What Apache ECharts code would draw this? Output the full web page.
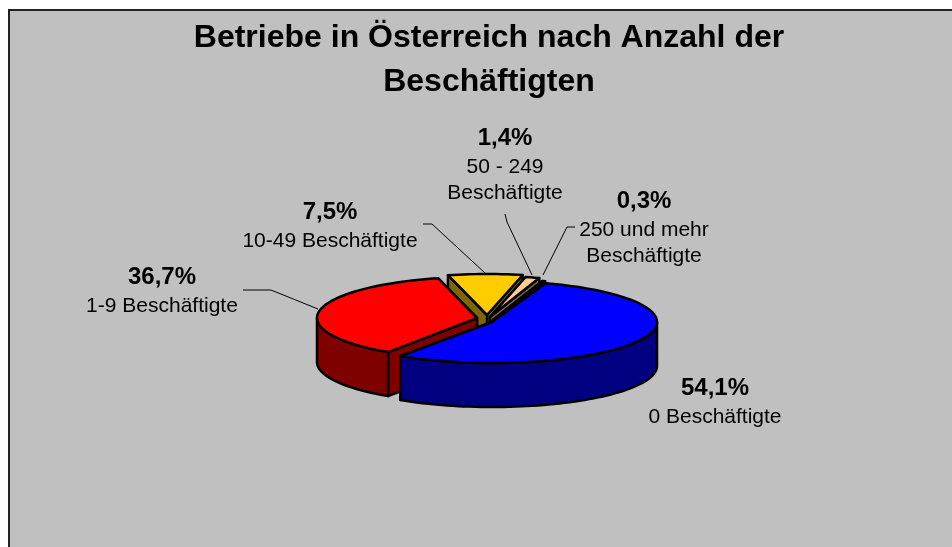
<!DOCTYPE html>
<html>
<head>
<meta charset="utf-8">
<style>html,body{margin:0;padding:0;background:#fff;overflow:hidden}#main{width:952px;height:547px}</style>
<script src="https://cdn.jsdelivr.net/npm/echarts@6/dist/echarts.min.js"></script>
</head>
<body>
<div id="main"></div>
<script>
// data
const titleLines = ["Betriebe in Österreich nach Anzahl der", "Beschäftigten"];
const categories = ["0 Beschäftigte", "1-9 Beschäftigte", "10-49 Beschäftigte", "50 - 249\nBeschäftigte", "250 und mehr\nBeschäftigte"];
const values = [54.1, 36.7, 7.5, 1.4, 0.3];
const topColors = ["#0000ff", "#ff0000", "#ffcc00", "#ffcc99", "#ffcc99"];
const sideColors = ["#000080", "#800000", "#806600", "#80664d", "#80664d"];

// pie geometry (tilted, exploded), back slices painted first
const startAngle = 71;
const depth = 44;
const sliceCx = [492, 477, 487, 490, 493];
const sliceCy = [322, 318, 315, 317, 320];
const sliceRx = [165, 160, 160, 160, 160];
const sliceRy = 41;
const drawOrder = [2, 3, 4, 1, 0];

// label layout: centre x, y of first line
const labelX = [715, 162, 330, 505, 644];
const labelY = [388, 277, 212, 138, 201];
const leaders = [
  null,
  [[243, 290], [271, 290], [318, 309]],
  [[423, 224], [432, 224], [485, 273]],
  [[505, 214], [507, 222], [532, 275]],
  [[575, 227], [567, 227], [543, 275]]
];
const FONT = '"Liberation Sans", Arial, sans-serif';

// clockwise angles of each slice
const total = values.reduce((a, b) => a + b, 0);
const angles = [];
let cur = startAngle;
values.forEach((v) => {
  const sweep = (v / total) * 360;
  angles.push([cur, cur - sweep]);
  cur -= sweep;
});

function ringPoint(i, deg, dy) {
  const t = (deg * Math.PI) / 180;
  return [sliceCx[i] + sliceRx[i] * Math.cos(t), sliceCy[i] - sliceRy * Math.sin(t) + (dy || 0)];
}

function arc(i, a0, a1, dy) {
  const n = Math.max(2, Math.ceil(Math.abs(a0 - a1) / 2));
  const pts = [];
  for (let k = 0; k <= n; k++) pts.push(ringPoint(i, a0 + ((a1 - a0) * k) / n, dy));
  return pts;
}

function poly(points, fill) {
  return {
    type: "polygon",
    shape: { points },
    style: { fill, stroke: "#000", lineWidth: 2.5, lineJoin: "round" }
  };
}

function renderSlice(params, api) {
  const i = api.value(0);
  const a0 = angles[i][0], a1 = angles[i][1];
  const apex = [sliceCx[i], sliceCy[i]];
  const apexLow = [sliceCx[i], sliceCy[i] + depth];
  const kids = [];
  // cut walls, the one nearer the viewer last
  [a0, a1].sort((p, q) => ringPoint(i, p)[1] - ringPoint(i, q)[1]).forEach((a) => {
    kids.push(poly([apex, ringPoint(i, a), ringPoint(i, a, depth), apexLow], sideColors[i]));
  });
  // outer wall, only the part turned to the viewer
  const from = Math.min(a0, 0), to = Math.max(a1, -180);
  if (from > to) {
    kids.push(poly(arc(i, from, to, 0).concat(arc(i, to, from, depth)), sideColors[i]));
  }
  // top face
  kids.push(poly([apex].concat(arc(i, a0, a1, 0)), topColors[i]));
  return { type: "group", children: kids };
}

function text(str, x, y, size, bold) {
  return {
    type: "text",
    x, y,
    silent: true,
    style: {
      text: str,
      fill: "#000",
      font: (bold ? "bold " : "") + size + "px " + FONT,
      textAlign: "center",
      textVerticalAlign: "middle"
    }
  };
}

const graphics = [
  {
    type: "rect", z: 0,
    shape: { x: 9, y: 10, width: 1000, height: 600 },
    style: { fill: "#c0c0c0", stroke: "#222", lineWidth: 2 }
  }
];
titleLines.forEach((t, k) => graphics.push(text(t, 489, 38 + k * 44, 32, true)));
categories.forEach((c, i) => {
  graphics.push(text(values[i].toFixed(1).replace(".", ",") + "%", labelX[i], labelY[i], 24, true));
  c.split("\n").forEach((line, k) => {
    graphics.push(text(line, labelX[i], labelY[i] + 29 + k * 26, 21, false));
  });
  if (leaders[i]) {
    graphics.push({
      type: "polyline",
      shape: { points: leaders[i] },
      style: { stroke: "#000", lineWidth: 1, fill: null }
    });
  }
});

const chart = echarts.init(document.getElementById("main"), null, { renderer: "canvas" });
chart.setOption({
  animation: false,
  graphic: { elements: graphics },
  series: [{
    type: "custom",
    coordinateSystem: "none",
    renderItem: renderSlice,
    z: 10,
    data: drawOrder.map((i) => [i, values[i]])
  }]
});
</script>
</body>
</html>
